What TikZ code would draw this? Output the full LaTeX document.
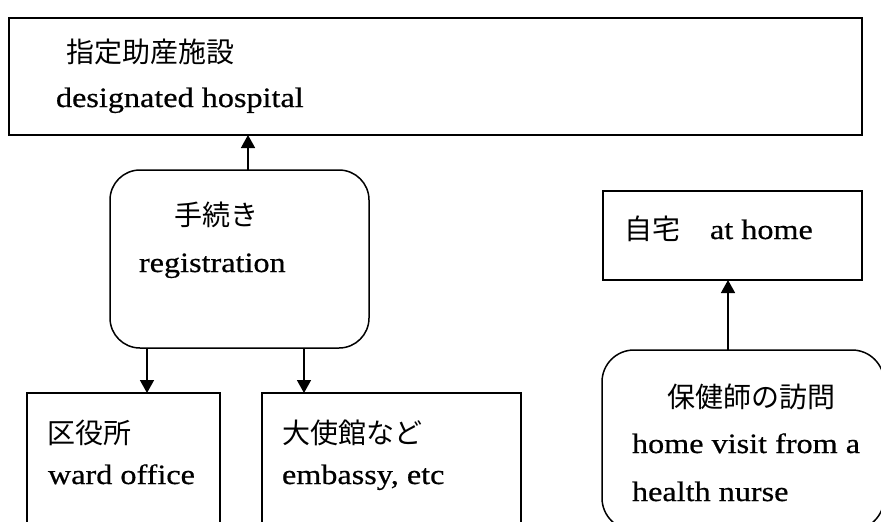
\documentclass[tikz,border=0pt]{standalone}
\usepackage{fontspec}
\setmainfont[FakeStretch=1.15,FakeBold=0.6]{Liberation Serif}
\newfontfamily\jp{Noto Sans CJK JP}
\usetikzlibrary{arrows.meta}
\begin{document}
\begin{tikzpicture}[x=1pt,y=-1pt,
  box/.style={draw,line width=1.5pt,rectangle,inner sep=0pt,outer sep=0pt},
  rbox/.style={box,rounded corners=30pt},
  txt/.style={anchor=base west,inner sep=0pt,outer sep=0pt,font=\fontsize{28pt}{34pt}\selectfont},
  jtxt/.style={txt,font=\fontsize{28pt}{34pt}\selectfont\jp},
  arr/.style={line width=1.5pt,-{Triangle[length=13pt,width=14pt]}}]
\useasboundingbox (0,0) rectangle (881,522);
\clip (0,0) rectangle (881,522);
\fill[white] (0,0) rectangle (881,522);
% boxes
\node[box,minimum width=853pt,minimum height=117pt] (hosp) at (435.5,76.5) {};
\node[rbox,minimum width=259pt,minimum height=178pt] (reg) at (239.5,259) {};
\node[box,minimum width=193pt,minimum height=147pt] (ward) at (123.5,466.5) {};
\node[box,minimum width=259pt,minimum height=147pt] (emb) at (391.5,466.5) {};
\node[box,minimum width=259pt,minimum height=89pt] (home) at (732.5,235.5) {};
\node[rbox,rounded corners=32pt,minimum width=282pt,minimum height=180pt] (nurse) at (743,440) {};
% texts
\node[jtxt] (t1) at (66,62) {指定助産施設};
\node[txt] (t2) at (56,107) {designated hospital};
\node[jtxt] (t3) at (174,225) {手続き};
\node[txt] (t4) at (139,272) {registration};
\node[jtxt] (t5) at (624,239) {自宅　};
\node[txt] (t6) at ([xshift=2pt]t5.base east) {at home};
\node[jtxt] (t7) at (47,443) {区役所};
\node[txt] (t8) at (48,484) {ward office};
\node[jtxt] (t9) at (282,443) {大使館など};
\node[txt] (t10) at (282,484) {embassy, etc};
\node[jtxt] (t11) at (667,407) {保健師の訪問};
\node[txt] (t12) at (632,453) {home visit from a};
\node[txt] (t13) at (632,501) {health nurse};
% arrows
\draw[arr] ([xshift=8.5pt]reg.north) -- ([xshift=8.5pt]reg.north |- hosp.south);
\draw[arr] ([xshift=23.5pt]ward.north |- reg.south) -- ([xshift=23.5pt]ward.north);
\draw[arr] ([xshift=-87.5pt]emb.north |- reg.south) -- ([xshift=-87.5pt]emb.north);
\draw[arr] ([xshift=-15pt]nurse.north) -- ([xshift=-15pt]nurse.north |- home.south);
\end{tikzpicture}
\end{document}
